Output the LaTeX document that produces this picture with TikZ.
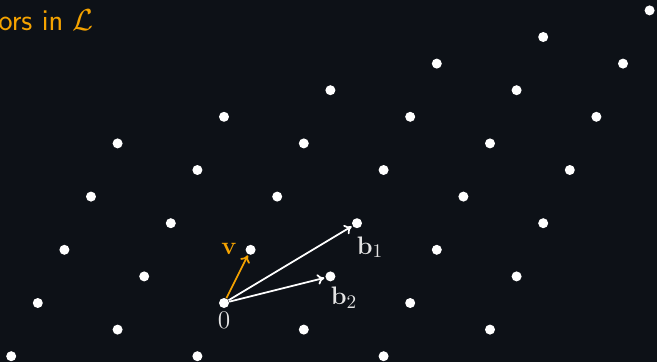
\documentclass[tikz,border=0pt]{standalone}
\usetikzlibrary{arrows.meta}
\definecolor{bgdark}{HTML}{0D1117}
\definecolor{vecorange}{HTML}{F5A300}
\definecolor{lbllight}{HTML}{E4E4E4}
\begin{document}
\begin{tikzpicture}[x=0.532cm, y=0.532cm,
  latpt/.style={circle, fill=white, inner sep=0pt, minimum size=0.2cm},
  basisvec/.style={draw=white, line width=1pt, -{To[length=4pt,width=6pt]}, shorten >=0.5pt},
  shortvec/.style={draw=vecorange, line width=1pt, -{To[length=4pt,width=6pt]}, shorten >=0.5pt},
  veclbl/.style={text=lbllight, font=\fontsize{15.6}{18}\selectfont}]
\clip (-8.421,-2.218) rectangle (16.278,11.391);
\fill[bgdark] (-8.421,-2.218) rectangle (16.278,11.391);
\node[anchor=base east, text=vecorange, font=\LARGE\sffamily, inner sep=0pt] (ttl) at (-4.88,10.26) {ors in $\mathcal{L}$};
\foreach \a in {-2,...,3}
  \foreach \c in {-2,...,4}
    \node[latpt] (L\a\c) at ({4*\a+\c},{\a+2*\c}) {};
\draw[basisvec] (L00) -- (L11);
\draw[basisvec] (L00) -- (L10);
\draw[shortvec] (L00) -- (L01);
\node[veclbl] (lb1) at (5.49,2.10) {$\mathbf{b}_1$};
\node[veclbl] (lb2) at (4.51,0.19) {$\mathbf{b}_2$};
\node[veclbl, text=vecorange] (lv) at (0.19,2.03) {$\mathbf{v}$};
\node[veclbl, font=\fontsize{13.5}{16}\selectfont] (l0) at (0,-0.66) {$0$};
\end{tikzpicture}
\end{document}
